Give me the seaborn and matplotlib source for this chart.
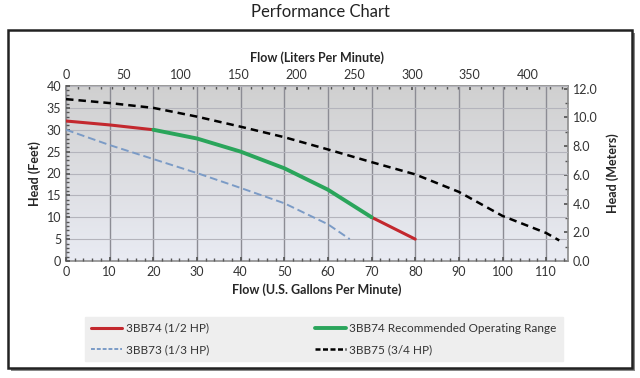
"""
Pump performance chart: head vs flow for three pump models.
"""

import numpy as np
import pandas as pd
import matplotlib.pyplot as plt
import matplotlib.ticker as ticker
import seaborn as sns
from matplotlib.patches import Rectangle
from matplotlib.lines import Line2D

# 3BB74 (1/2 HP) - split into red / green (recommended range) / red
red_lo_gpm = [0, 10, 20]
red_lo_ft = [32, 31.1, 30]
green_gpm = [20, 30, 40, 50, 60, 70]
green_ft = [30, 28.0, 25, 21.2, 16.3, 10]
red_hi_gpm = [70, 80]
red_hi_ft = [10, 5]

# 3BB73 (1/3 HP)
bb73_gpm = [0, 10, 20, 30, 40, 50, 60, 65]
bb73_ft = [30, 26.5, 23.3, 20.1, 16.7, 13.2, 8.4, 5]

# 3BB75 (3/4 HP)
bb75_gpm = [0, 10, 20, 30, 40, 50, 60, 70, 80, 90, 100, 110, 113]
bb75_ft = [37, 36.1, 35, 33, 30.7, 28.3, 25.5, 22.6, 19.8, 15.8, 10.3, 6.4, 4.7]

GAL_TO_L = 3.785
FT_TO_M = 0.3048

sns.set_theme(style="white")
plt.rcParams["font.family"] = ["Lato", "DejaVu Sans"]

fig = plt.figure(figsize=(6.4, 3.78), dpi=100)
ax = fig.add_axes([66 / 640, 1 - 261 / 378, (568 - 66) / 640, (261 - 86) / 378])

# gradient background: darker grey at top, light bluish at bottom
grad = np.linspace(0, 1, 256).reshape(-1, 1)
cmap = plt.matplotlib.colors.LinearSegmentedColormap.from_list(
    "bg", ["#d0d0d0", "#e9ebf3"]
)
ax.imshow(grad, extent=[0, 115, 0, 40], origin="upper", aspect="auto",
          cmap=cmap, zorder=0)

ax.set_xlim(0, 115)
ax.set_ylim(0, 40)

df_bb75 = pd.DataFrame({"gpm": bb75_gpm, "ft": bb75_ft})
df_bb73 = pd.DataFrame({"gpm": bb73_gpm, "ft": bb73_ft})
df_green = pd.DataFrame({"gpm": green_gpm, "ft": green_ft})
df_red_lo = pd.DataFrame({"gpm": red_lo_gpm, "ft": red_lo_ft})
df_red_hi = pd.DataFrame({"gpm": red_hi_gpm, "ft": red_hi_ft})

red = "#c3282e"
green = "#2aa55b"
blue = "#7b9bc6"

sns.lineplot(df_bb75, x="gpm", y="ft", ax=ax, color="black", lw=1.8,
             linestyle=(0, (3, 2)), zorder=3)
sns.lineplot(df_bb73, x="gpm", y="ft", ax=ax, color=blue, lw=1.4,
             linestyle=(0, (4, 2)), zorder=3)
sns.lineplot(df_red_lo, x="gpm", y="ft", ax=ax, color=red, lw=2.2, zorder=4)
sns.lineplot(df_red_hi, x="gpm", y="ft", ax=ax, color=red, lw=2.2, zorder=4)
sns.lineplot(df_green, x="gpm", y="ft", ax=ax, color=green, lw=2.8, zorder=5)

# grid
ax.xaxis.set_major_locator(ticker.MultipleLocator(10))
ax.xaxis.set_minor_locator(ticker.MultipleLocator(2))
ax.yaxis.set_major_locator(ticker.MultipleLocator(5))
ax.yaxis.set_minor_locator(ticker.MultipleLocator(1))
ax.grid(True, which="major", axis="x", color="#8c8c94", lw=1.0)
ax.grid(True, which="major", axis="y", color="#b4b4bc", lw=0.8)
ax.set_axisbelow(False)
for line in ax.get_xgridlines() + ax.get_ygridlines():
    line.set_zorder(1)

for s in ["top", "right"]:
    ax.spines[s].set_visible(False)
for s in ["left", "bottom"]:
    ax.spines[s].set_color("#8c8c8c")
    ax.spines[s].set_linewidth(1.2)

ax.tick_params(axis="both", which="both", direction="in", labelsize=9,
               colors="#555555", labelcolor="#333333")
ax.tick_params(which="major", length=3)
ax.tick_params(which="minor", length=2)
ax.tick_params(axis="both", which="both", bottom=True, left=True)

ax.set_xlabel("Flow (U.S. Gallons Per Minute)", fontsize=9, fontweight="bold",
              labelpad=4)
ax.set_ylabel("Head (Feet)", fontsize=9, fontweight="bold", labelpad=4)

# secondary axes
top = ax.secondary_xaxis("top", functions=(lambda g: g * GAL_TO_L,
                                           lambda l: l / GAL_TO_L))
top.xaxis.set_major_locator(ticker.MultipleLocator(50))
top.xaxis.set_minor_locator(ticker.MultipleLocator(10))
top.tick_params(which="both", direction="in", labelsize=9, colors="#555555",
                labelcolor="#333333")
top.tick_params(which="major", length=3)
top.tick_params(which="minor", length=2)
top.spines["top"].set_color("#8c8c8c")
top.set_xlabel("Flow (Liters Per Minute)", fontsize=9, fontweight="bold",
               labelpad=5)

right = ax.secondary_yaxis("right", functions=(lambda f: f * FT_TO_M,
                                               lambda m: m / FT_TO_M))
right.yaxis.set_major_locator(ticker.MultipleLocator(2))
right.yaxis.set_minor_locator(ticker.MultipleLocator(1))
right.yaxis.set_major_formatter(ticker.FormatStrFormatter("%.1f"))
right.tick_params(which="both", direction="in", labelsize=9, colors="#555555",
                  labelcolor="#333333")
right.tick_params(which="major", length=3)
right.tick_params(which="minor", length=2)
right.spines["right"].set_color("#8c8c8c")
right.spines["right"].set_linewidth(1.2)
right.set_ylabel("Head (Meters)", fontsize=9, fontweight="bold", labelpad=6)

# legend
handles = [
    Line2D([], [], color=red, lw=2.2),
    Line2D([], [], color=blue, lw=1.4, linestyle=(0, (2, 1))),
    Line2D([], [], color=green, lw=2.8),
    Line2D([], [], color="black", lw=1.8, linestyle=(0, (2, 1))),
]
labels = ["3BB74 (1/2 HP)", "3BB73 (1/3 HP)",
          "3BB74 Recommended Operating Range", "3BB75 (3/4 HP)"]
leg = fig.legend(handles, labels, ncol=2, loc="center",
                 bbox_to_anchor=(324 / 640, 1 - 339 / 378), fontsize=8.5,
                 frameon=True, fancybox=False, framealpha=1,
                 facecolor="#eeeeee", edgecolor="#eeeeee",
                 handlelength=2.6, handletextpad=0.3, columnspacing=9,
                 labelspacing=0.9, borderpad=0.5)
for t in leg.get_texts():
    t.set_color("#333333")

# outer frame with shadow
fig.patches.append(Rectangle((11 / 640, 1 - 371 / 378), 624 / 640, 338 / 378,
                             transform=fig.transFigure, facecolor="#888888",
                             edgecolor="none", zorder=-2))
fig.patches.append(Rectangle((8 / 640, 1 - 368 / 378), 624 / 640, 338 / 378,
                             transform=fig.transFigure, facecolor="white",
                             edgecolor="#222222", lw=1.8, zorder=-1))

fig.suptitle("Performance Chart", y=1 - 12 / 378, va="center", fontsize=12,
             color="#222222")

fig.savefig("out.png", dpi=100)
